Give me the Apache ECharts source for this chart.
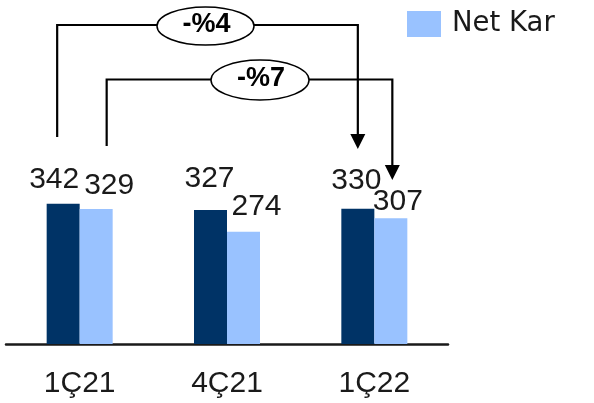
<!DOCTYPE html>
<html>
<head>
<meta charset="utf-8">
<script src="https://cdn.jsdelivr.net/npm/echarts@6/dist/echarts.min.js"></script>
<style>html,body{margin:0;padding:0;background:#fff;}#c{width:594px;height:403px;}</style>
</head>
<body>
<div id="c"></div>
<script>
// ---- data ----
const categories = ['1Ç21', '4Ç21', '1Ç22'];
const seriesDarkName = 'Faaliyet Karı';
const seriesDark = [342, 327, 330];
const seriesLightName = 'Net Kar';
const seriesLight = [329, 274, 307];
const changeLabels = ['-%4', '-%7'];

// ---- style config (label nudges, as in the original) ----
const darkLabelOffsets = [[-9, -9], [-1, -16], [-1.5, -13]];
const lightLabelOffsets = [[13, -8], [13, -10], [7, -1]];

const DARK = '#003366';
const LIGHT = '#99C2FF';
const NUMFONT = 'Liberation Sans';

const chart = echarts.init(document.getElementById('c'));

function mk(values, offsets) {
  return values.map((v, i) => ({ value: v, label: { offset: offsets[i] } }));
}

chart.setOption({
  animation: false,
  backgroundColor: '#fff',
  legend: {
    data: [seriesLightName],
    left: 402, top: 5,
    itemWidth: 34, itemHeight: 26,
    icon: 'rect',
    textStyle: { fontFamily: 'DejaVu Sans', fontSize: 27.5, color: '#1a1a1a', padding: [0, 0, 0, 6] }
  },
  grid: { left: 6, right: 146, top: 180, bottom: 59, containLabel: false },
  xAxis: {
    type: 'category',
    data: categories,
    axisLine: { show: true, lineStyle: { color: '#1a1a1a', width: 2.5 } },
    axisTick: { show: false },
    axisLabel: { fontFamily: NUMFONT, fontSize: 30, color: '#1a1a1a', margin: 25 }
  },
  yAxis: {
    type: 'value', min: 0, max: 400,
    show: false, splitLine: { show: false }
  },
  series: [
    {
      name: seriesDarkName, type: 'bar', data: mk(seriesDark, darkLabelOffsets),
      barWidth: 33, barGap: '0%',
      itemStyle: { color: DARK },
      label: { show: true, position: 'top', distance: 0, fontFamily: NUMFONT, fontSize: 30, color: '#1a1a1a' }
    },
    {
      name: seriesLightName, type: 'bar', data: mk(seriesLight, lightLabelOffsets),
      barWidth: 33, barGap: '0%',
      itemStyle: { color: LIGHT },
      label: { show: true, position: 'top', distance: 0, fontFamily: NUMFONT, fontSize: 30, color: '#1a1a1a' }
    }
  ]
});

// ---- change annotations, anchored to the bars ----
const c0 = chart.convertToPixel({ xAxisIndex: 0 }, categories[0]);
const c2 = chart.convertToPixel({ xAxisIndex: 0 }, categories[2]);
const half = 16.5;
const darkC0 = c0 - half, lightC0 = c0 + half;
const darkC2 = c2 - half, lightC2 = c2 + half;

const lineStyle = { stroke: '#000', lineWidth: 2.2, fill: null };
function bracket(x1, yBottom, yTop, x2, yTip, ell, text) {
  const aw = 7.5, ah = 15;
  return [
    { type: 'polyline', shape: { points: [[x1, yBottom], [x1, yTop], [ell.cx - ell.rx, yTop]] }, style: lineStyle, z: 10 },
    { type: 'polyline', shape: { points: [[ell.cx + ell.rx, yTop], [x2, yTop], [x2, yTip - ah + 1]] }, style: lineStyle, z: 10 },
    { type: 'polygon', shape: { points: [[x2 - aw, yTip - ah], [x2 + aw, yTip - ah], [x2, yTip]] }, style: { fill: '#000' }, z: 10 },
    { type: 'ellipse', shape: { cx: ell.cx, cy: ell.cy, rx: ell.rx, ry: ell.ry }, style: { fill: '#fff', stroke: '#000', lineWidth: 1.5 }, z: 11 },
    { type: 'text', x: ell.cx + 1, y: ell.cy - 1, style: { text: text, font: 'bold 27px "Liberation Sans"', fill: '#000', align: 'center', verticalAlign: 'middle' }, z: 12 }
  ];
}

chart.setOption({
  graphic: [].concat(
    bracket(darkC0 - 6, 137, 25, darkC2, 149, { cx: 205.5, cy: 26, rx: 48.5, ry: 19 }, changeLabels[0]),
    bracket(lightC0 + 10.5, 146, 79.5, lightC2 + 1.5, 180, { cx: 260, cy: 80, rx: 49, ry: 20 }, changeLabels[1])
  )
});
</script>
</body>
</html>
